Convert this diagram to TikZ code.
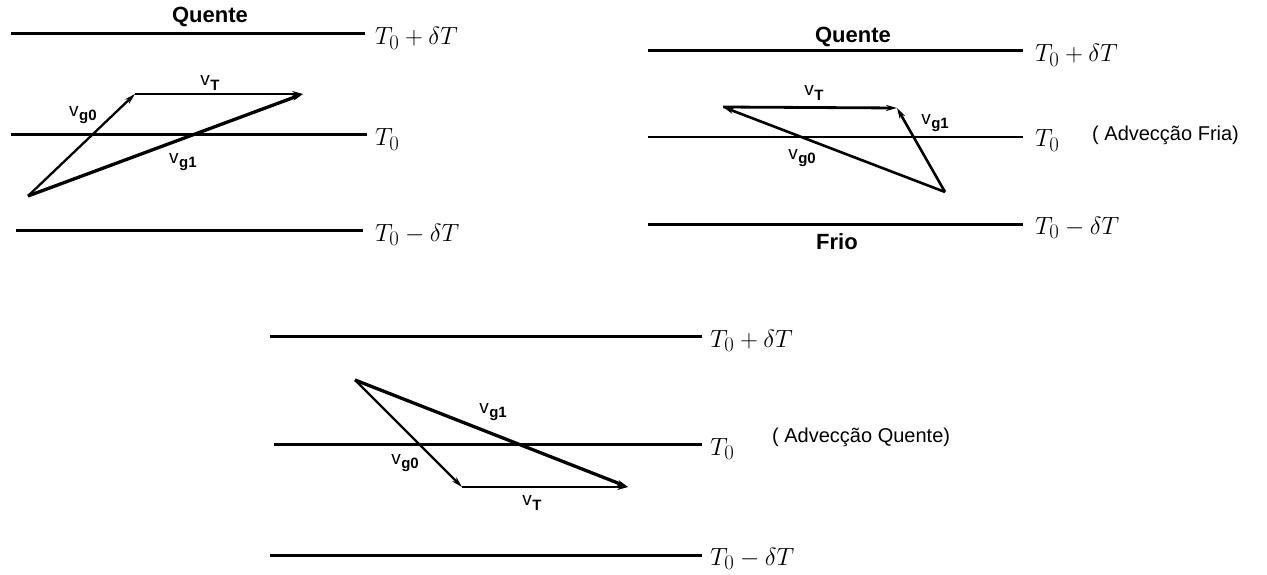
\documentclass[tikz,border=0pt]{standalone}
\usepackage{fontspec}
\setsansfont{Liberation Sans}
\usetikzlibrary{arrows.meta}
\newcommand{\vlab}[1]{\textsf{v\kern0.5pt\raisebox{-0.45ex}{\fontsize{15}{15}\selectfont\bfseries #1}}}
\tikzset{
  iso/.style={line width=3pt},
  isothin/.style={line width=1.5pt},
  vec/.style={-{Stealth[length=11pt,width=6pt]}},
  mlab/.style={anchor=base west, inner sep=0pt, font=\fontsize{30}{32}\selectfont},
  slab/.style={inner sep=0pt, font=\fontsize{19}{21}\selectfont\sffamily},
  blab/.style={inner sep=0pt, font=\fontsize{22}{24}\selectfont\sffamily\bfseries},
  alab/.style={anchor=west, inner sep=0pt, font=\fontsize{20}{22}\selectfont\sffamily},
}
\begin{document}
\begin{tikzpicture}[x=1pt,y=-1pt]
\useasboundingbox (0,0) rectangle (1267,575);
% ---------- panel 1 ----------
\coordinate (p1a) at (11,34);  \coordinate (p1b) at (365,34);
\coordinate (p1c) at (11,135); \coordinate (p1d) at (367,135);
\coordinate (p1e) at (16,230); \coordinate (p1f) at (363,230);
\draw[iso] (p1a) -- (p1b);
\draw[iso] (p1c) -- (p1d);
\draw[iso] (p1e) -- (p1f);
\node[blab] (q1) at (210,17) {Quente};
\node[mlab] (l1a) at (375,45) {$T_0+\delta T$};
\node[mlab] (l1b) at (375,146) {$T_0$};
\node[mlab] (l1c) at (375,241) {$T_0-\delta T$};
\coordinate (A1) at (28,196);
\coordinate (B1) at (135,94);
\coordinate (C1) at (303,94);
\draw[vec, line width=2.3pt] (A1) -- (B1);
\draw[vec, line width=1.4pt] (B1) -- (C1);
\draw[vec, line width=3.3pt] (A1) -- (C1);
\node[slab] (v1a) at (83,115) {\vlab{g0}};
\node[slab] (v1b) at (210,83) {\vlab{T}};
\node[slab] (v1c) at (183,162) {\vlab{g1}};
% ---------- panel 2 ----------
\coordinate (p2a) at (648,51);  \coordinate (p2b) at (1023,51);
\coordinate (p2c) at (648,137); \coordinate (p2d) at (1023,137);
\coordinate (p2e) at (648,224); \coordinate (p2f) at (1023,224);
\draw[iso] (p2a) -- (p2b);
\draw[isothin] (p2c) -- (p2d);
\draw[iso] (p2e) -- (p2f);
\node[blab] (q2) at (853,37) {Quente};
\node[blab] (f2) at (837,242) {Frio};
\node[mlab] (l2a) at (1035,62) {$T_0+\delta T$};
\node[mlab] (l2b) at (1035,147) {$T_0$};
\node[mlab] (l2c) at (1035,234) {$T_0-\delta T$};
\node[alab] (ad2) at (1092,135) {( Advecção Fria)};
\coordinate (A2) at (945,192);
\coordinate (B2) at (723,107);
\coordinate (C2) at (897,108);
\draw[vec, line width=2.6pt] (A2) -- (B2);
\draw[vec, line width=2.6pt] (A2) -- (C2);
\draw[vec, line width=2.8pt] (B2) -- (C2);
\node[slab] (v2a) at (802,158) {\vlab{g0}};
\node[slab] (v2b) at (814,93) {\vlab{T}};
\node[slab] (v2c) at (935,123) {\vlab{g1}};
% ---------- panel 3 ----------
\coordinate (p3a) at (270,336); \coordinate (p3b) at (702,336);
\coordinate (p3c) at (274,444); \coordinate (p3d) at (702,444);
\coordinate (p3e) at (270,555); \coordinate (p3f) at (702,555);
\draw[iso] (p3a) -- (p3b);
\draw[iso] (p3c) -- (p3d);
\draw[iso] (p3e) -- (p3f);
\node[mlab] (l3a) at (710,347) {$T_0+\delta T$};
\node[mlab] (l3b) at (710,455) {$T_0$};
\node[mlab] (l3c) at (710,565) {$T_0-\delta T$};
\node[alab] (ad3) at (772,437) {( Advecção Quente)};
\coordinate (A3) at (355,380);
\coordinate (B3) at (462,487);
\coordinate (C3) at (628,487);
\draw[vec, line width=2.3pt] (A3) -- (B3);
\draw[vec, line width=1.3pt] (B3) -- (C3);
\draw[vec, line width=3.3pt] (A3) -- (C3);
\node[slab] (v3a) at (405,463) {\vlab{g0}};
\node[slab] (v3b) at (532,503) {\vlab{T}};
\node[slab] (v3c) at (493,412) {\vlab{g1}};
\end{tikzpicture}
\end{document}
